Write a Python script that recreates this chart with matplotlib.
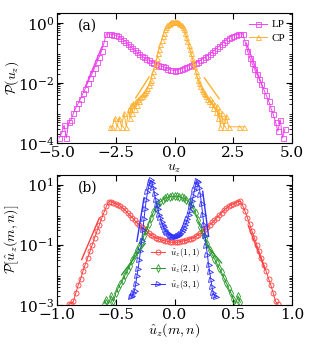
import matplotlib
matplotlib.use("Agg")
import matplotlib.pyplot as plt

plt.rcParams['font.family'] = 'DejaVu Serif'
plt.rcParams['mathtext.fontset'] = 'cm'

# ---- panel (a) data ----
lp_x = [-4.9, -4.8, -4.7, -4.6, -4.5, -4.4, -4.3, -4.2, -4.1, -4.0, -3.9, -3.8, -3.7, -3.6, -3.5,
        -3.4, -3.3, -3.2, -3.1, -3.0, -2.9, -2.8, -2.7, -2.6, -2.5, -2.4, -2.3, -2.2, -2.1, -2.0,
        -1.9, -1.8, -1.7, -1.6, -1.5, -1.4, -1.3, -1.2, -1.1, -1.0, -0.9, -0.8, -0.7, -0.6, -0.5,
        -0.4, -0.3, -0.2, -0.1, 0.0, 0.1, 0.2, 0.3, 0.4, 0.5, 0.6, 0.7, 0.8, 0.9, 1.0,
        1.1, 1.2, 1.3, 1.4, 1.5, 1.6, 1.7, 1.8, 1.9, 2.0, 2.1, 2.2, 2.3, 2.4, 2.5,
        2.6, 2.7, 2.8, 2.9, 3.0, 3.1, 3.2, 3.3, 3.4, 3.5, 3.6, 3.7, 3.8, 3.9, 4.0,
        4.1, 4.2, 4.3, 4.4, 4.5, 4.6, 4.7]
lp_y = [1.5e-4, 2.2e-4, 4e-4, 1.5e-4, 5e-4, 6e-4, 1.0e-3, 1.5e-3, 2.1e-3, 3.0e-3, 4.5e-3, 6.5e-3, 1.0e-2, 1.5e-2, 2.1e-2,
        3.2e-2, 5.0e-2, 7.5e-2, 0.12, 0.22, 0.44, 0.43, 0.42, 0.41, 0.39, 0.36, 0.32, 0.28, 0.24, 0.20,
        0.17, 0.145, 0.125, 0.105, 0.092, 0.080, 0.071, 0.064, 0.058, 0.052, 0.047, 0.042, 0.039, 0.037, 0.036,
        0.033, 0.030, 0.028, 0.027, 0.026, 0.027, 0.028, 0.030, 0.032, 0.035, 0.037, 0.040, 0.043, 0.047, 0.052,
        0.058, 0.064, 0.072, 0.081, 0.093, 0.107, 0.125, 0.145, 0.17, 0.20, 0.24, 0.28, 0.32, 0.35, 0.38,
        0.40, 0.42, 0.43, 0.44, 0.24, 0.12, 7.0e-2, 4.6e-2, 3.0e-2, 2.0e-2, 1.4e-2, 9.0e-3, 6.0e-3, 4.0e-3, 2.6e-3,
        1.5e-3, 9e-4, 5e-4, 2.5e-4, 6e-4, 1.5e-4, 3e-4]

cp_x = [-2.75, -2.65, -2.55, -2.45, -2.35, -2.25, -2.15, -2.05, -1.95, -1.9, -1.85, -1.8, -1.75, -1.7,
        -1.65, -1.6, -1.55, -1.5, -1.45, -1.4, -1.35, -1.3, -1.25, -1.2, -1.15, -1.1, -1.05, -1.0,
        -0.95, -0.9, -0.85, -0.8, -0.75, -0.7, -0.65, -0.6, -0.55, -0.5, -0.45, -0.4, -0.35, -0.3,
        -0.25, -0.2, -0.15, -0.1, -0.05, 0.0, 0.05, 0.1, 0.15, 0.2, 0.25, 0.3, 0.35, 0.4,
        0.45, 0.5, 0.55, 0.6, 0.65, 0.7, 0.75, 0.8, 0.85, 0.9, 0.95, 1.0, 1.05, 1.1,
        1.15, 1.2, 1.25, 1.3, 1.35, 1.4, 1.45, 1.5, 1.55, 1.6, 1.65, 1.7, 1.75, 1.8,
        1.85, 1.9, 1.95, 2.0, 2.05, 2.1, 2.2, 2.3, 2.75, 2.95]
cp_y = [3.5e-4, 3.5e-4, 7e-4, 3.5e-4, 7e-4, 3.5e-4, 1.0e-3, 3.5e-4, 1.4e-3, 7e-4, 1.8e-3, 1.0e-3, 2.2e-3, 1.4e-3,
        2.5e-3, 1.8e-3, 3.0e-3, 2.6e-3, 3.4e-3, 3.8e-3, 4.2e-3, 4.6e-3, 5.0e-3, 6.0e-3, 7.0e-3, 8.5e-3, 1.05e-2, 1.3e-2,
        1.8e-2, 2.5e-2, 3.6e-2, 5.0e-2, 7.0e-2, 0.10, 0.14, 0.20, 0.27, 0.36, 0.48, 0.62, 0.74, 0.85,
        0.93, 1.0, 1.05, 1.08, 1.11, 1.13, 1.11, 1.08, 1.04, 0.99, 0.92, 0.84, 0.73, 0.61,
        0.47, 0.35, 0.26, 0.19, 0.14, 0.10, 7.0e-2, 5.0e-2, 3.6e-2, 2.5e-2, 1.8e-2, 1.3e-2, 1.0e-2, 8.0e-3,
        6.5e-3, 5.5e-3, 4.8e-3, 4.2e-3, 3.6e-3, 3.0e-3, 2.5e-3, 3.2e-3, 2.0e-3, 2.6e-3, 1.5e-3, 2.0e-3, 1.1e-3, 1.7e-3,
        7e-4, 1.3e-3, 3.5e-4, 1.0e-3, 6e-4, 3.5e-4, 8e-4, 3.5e-4, 3.5e-4, 3.5e-4]

lp_fit_left = ([-3.8, -3.09], [7.4e-3, 0.16])
lp_fit_right = ([3.06, 3.77], [0.21, 6.8e-3])
cp_fit_left = ([-1.65, -1.08], [3.2e-3, 1.6e-2])
cp_fit_right = ([1.27, 1.9], [1.5e-2, 3.0e-3])

# ---- panel (b) data ----
r_x = [-0.90, -0.88, -0.86, -0.84, -0.82, -0.80, -0.78, -0.76, -0.74, -0.72, -0.70, -0.68, -0.66, -0.64,
       -0.62, -0.60, -0.58, -0.56, -0.54, -0.52, -0.50, -0.48, -0.46, -0.44, -0.42, -0.40, -0.38, -0.36,
       -0.34, -0.32, -0.30, -0.28, -0.26, -0.24, -0.22, -0.20, -0.18, -0.16, -0.14, -0.12, -0.10, -0.08,
       -0.06, -0.04, -0.02, 0.00, 0.02, 0.04, 0.06, 0.08, 0.10, 0.12, 0.14, 0.16, 0.18, 0.20,
       0.22, 0.24, 0.26, 0.28, 0.30, 0.32, 0.34, 0.36, 0.38, 0.40, 0.42, 0.44, 0.46, 0.48,
       0.50, 0.52, 0.54, 0.56, 0.58, 0.60, 0.62, 0.64, 0.66, 0.68, 0.70, 0.72, 0.74, 0.76,
       0.78, 0.80, 0.82, 0.84, 0.86, 0.88]
r_y = [1.05e-3, 1.1e-3, 1.3e-3, 2.5e-3, 4.5e-3, 7e-3, 1.3e-2, 2.2e-2, 3.5e-2, 6.0e-2, 0.10, 0.17, 0.28, 0.45,
       0.75, 1.2, 1.9, 2.7, 2.7, 2.5, 2.3, 2.1, 1.9, 1.65, 1.4, 1.15, 0.95, 0.80,
       0.65, 0.54, 0.46, 0.39, 0.33, 0.28, 0.24, 0.21, 0.19, 0.17, 0.16, 0.15, 0.14, 0.135,
       0.13, 0.125, 0.12, 0.12, 0.12, 0.125, 0.13, 0.135, 0.14, 0.15, 0.16, 0.17, 0.19, 0.21,
       0.24, 0.28, 0.33, 0.39, 0.46, 0.55, 0.66, 0.80, 0.96, 1.15, 1.4, 1.65, 1.9, 2.1,
       2.3, 2.5, 2.7, 2.8, 2.0, 1.3, 0.80, 0.48, 0.28, 0.17, 0.10, 6.0e-2, 3.6e-2, 2.2e-2,
       1.3e-2, 7.5e-3, 4.5e-3, 2.5e-3, 1.3e-3, 1.05e-3]

g_x = [-0.60, -0.58, -0.56, -0.54, -0.52, -0.50, -0.48, -0.46, -0.44, -0.42, -0.40, -0.38, -0.36, -0.34,
       -0.32, -0.30, -0.28, -0.26, -0.24, -0.22, -0.20, -0.18, -0.16, -0.14, -0.12, -0.10, -0.08, -0.06,
       -0.04, -0.02, 0.00, 0.02, 0.04, 0.06, 0.08, 0.10, 0.12, 0.14, 0.16, 0.18, 0.20, 0.22,
       0.24, 0.26, 0.28, 0.30, 0.32, 0.34, 0.36, 0.38, 0.40, 0.42, 0.44, 0.46, 0.48, 0.50,
       0.52, 0.54, 0.56]
g_y = [1.1e-3, 1.5e-3, 1.1e-3, 2.0e-3, 1.3e-3, 2.5e-3, 3.6e-3, 5e-3, 6.8e-3, 1.0e-2, 1.4e-2, 2.0e-2, 3.0e-2, 4.5e-2,
       6.5e-2, 9.0e-2, 0.13, 0.20, 0.30, 0.50, 0.80, 1.2, 1.7, 2.2, 2.7, 3.1, 3.5, 3.8,
       4.0, 4.1, 4.1, 4.1, 4.0, 3.8, 3.5, 3.1, 2.7, 2.2, 1.6, 1.1, 0.65, 0.40,
       0.25, 0.17, 0.11, 6.8e-2, 4.8e-2, 3.4e-2, 2.4e-2, 1.7e-2, 1.2e-2, 8.0e-3, 5.5e-3, 3.5e-3, 2.5e-3, 1.6e-3,
       1.1e-3, 2.0e-3, 1.2e-3]

b_x = [-0.37, -0.36, -0.35, -0.34, -0.33, -0.32, -0.31, -0.30, -0.29, -0.28, -0.27, -0.26, -0.25, -0.24,
       -0.23, -0.22, -0.21, -0.20, -0.19, -0.18, -0.17, -0.16, -0.15, -0.14, -0.13, -0.12, -0.11, -0.10,
       -0.09, -0.08, -0.07, -0.06, -0.05, -0.04, -0.03, -0.02, -0.01, 0.00, 0.01, 0.02, 0.03, 0.04,
       0.05, 0.06, 0.07, 0.08, 0.09, 0.10, 0.11, 0.12, 0.13, 0.14, 0.15, 0.16, 0.17, 0.18,
       0.19, 0.20, 0.21, 0.22, 0.23, 0.24, 0.25, 0.26, 0.27, 0.28, 0.29, 0.30, 0.31, 0.32,
       0.33, 0.34, 0.35]
b_y = [1.8e-3, 2.0e-3, 2.5e-3, 3.0e-3, 5.0e-3, 9.0e-3, 1.6e-2, 3.0e-2, 6.0e-2, 0.13, 0.30, 0.70, 1.6, 3.2,
       5.5, 8.5, 12.0, 14.0, 11.0, 7.5, 5.0, 3.2, 2.1, 1.5, 1.0, 0.75, 0.58, 0.46,
       0.38, 0.32, 0.27, 0.24, 0.22, 0.20, 0.19, 0.18, 0.18, 0.18, 0.18, 0.19, 0.20, 0.21,
       0.23, 0.26, 0.30, 0.36, 0.44, 0.55, 0.72, 0.95, 1.3, 1.9, 2.8, 4.3, 6.5, 9.5,
       13.0, 12.0, 8.0, 4.5, 2.2, 1.0, 0.45, 0.20, 9.0e-2, 4.5e-2, 2.2e-2, 1.2e-2, 6.5e-3, 3.8e-3,
       2.5e-3, 2.0e-3, 1.8e-3]

r_fit_left = ([-0.79, -0.64], [3.2e-2, 0.78])
r_fit_right = ([0.63, 0.77], [0.41, 1.5e-2])
g_fit_left = ([-0.45, -0.25], [1.0e-2, 0.11])
g_fit_right = ([0.27, 0.40], [0.10, 2.5e-2])
b_fit_left = ([-0.32, -0.26], [0.13, 3.6])
b_fit_right = ([0.24, 0.29], [6.0, 0.19])

c_lp = '#ee44ee'
c_cp = '#ffb030'
c_r = '#ff4040'
c_g = '#2a9a2a'
c_b = '#3030ff'

fig = plt.figure(figsize=(3.15, 3.5), dpi=100)
ax1 = fig.add_axes([0.181, 0.591, 0.746, 0.372])
ax2 = fig.add_axes([0.181, 0.129, 0.746, 0.372])

mk = dict(markersize=3.6, markerfacecolor='none', markeredgewidth=0.6, linewidth=0.7)

ax1.plot(lp_x, lp_y, 's-', color=c_lp, label='LP', **mk)
ax1.plot(cp_x, cp_y, '^-', color=c_cp, label='CP', **mk)
for fx, fy in [lp_fit_left, lp_fit_right]:
    ax1.plot(fx, fy, '-', color=c_lp, linewidth=1.0)
for fx, fy in [cp_fit_left, cp_fit_right]:
    ax1.plot(fx, fy, '-', color=c_cp, linewidth=1.0)
ax1.set_yscale('log')
ax1.set_xlim(-5, 5)
ax1.set_ylim(1e-4, 2.15)
ax1.set_xticks([-5, -2.5, 0, 2.5, 5])
ax1.set_yticks([1e-4, 1e-2, 1e0])
ax1.set_xlabel(r'$u_z$', fontsize=10, labelpad=1)
ax1.set_ylabel(r'$\mathcal{P}(u_z)$', fontsize=10)
ax1.text(0.09, 0.9, '(a)', transform=ax1.transAxes, fontsize=10, va='center')
ax1.legend(loc='upper right', frameon=False, handlelength=1.6,
           handletextpad=0.4, labelspacing=0.3, borderaxespad=0.2,
           prop={'family': 'Liberation Serif', 'size': 8})

ax2.plot(r_x, r_y, 'o-', color=c_r, label=r'$\hat{u}_z(1,1)$', **mk)
ax2.plot(g_x, g_y, 'd-', color=c_g, label=r'$\hat{u}_z(2,1)$', **mk)
ax2.plot(b_x, b_y, '>-', color=c_b, label=r'$\hat{u}_z(3,1)$', **mk)
for (fx, fy), c in [(r_fit_left, c_r), (r_fit_right, c_r), (g_fit_left, c_g),
                    (g_fit_right, c_g), (b_fit_left, c_b), (b_fit_right, c_b)]:
    ax2.plot(fx, fy, '-', color=c, linewidth=1.0)
ax2.set_yscale('log')
ax2.set_xlim(-1, 1)
ax2.set_ylim(1e-3, 21.5)
ax2.set_xticks([-1, -0.5, 0, 0.5, 1])
ax2.set_yticks([1e-3, 1e-1, 1e1])
ax2.set_xlabel(r'$\hat{u}_z(m,n)$', fontsize=10, labelpad=0)
ax2.set_ylabel(r'$\mathcal{P}[\hat{u}_z(m,n)]$', fontsize=10)
ax2.text(0.09, 0.9, '(b)', transform=ax2.transAxes, fontsize=10, va='center')
ax2.legend(loc='lower left', bbox_to_anchor=(0.38, 0.07), frameon=False, fontsize=6.5,
           handlelength=1.6, handletextpad=0.5, labelspacing=0.35, borderaxespad=0.1)

for ax in (ax1, ax2):
    ax.tick_params(which='both', direction='in', top=True, right=True, labelsize=11, pad=2)
    ax.tick_params(which='major', length=4, width=0.8)
    ax.tick_params(which='minor', length=2, width=0.6)
    ax.tick_params(axis='x', which='minor', bottom=False, top=False)
    ax.yaxis.set_label_coords(-0.155, 0.5)
    for s in ax.spines.values():
        s.set_linewidth(0.8)

fig.savefig('out.png', dpi=100)
